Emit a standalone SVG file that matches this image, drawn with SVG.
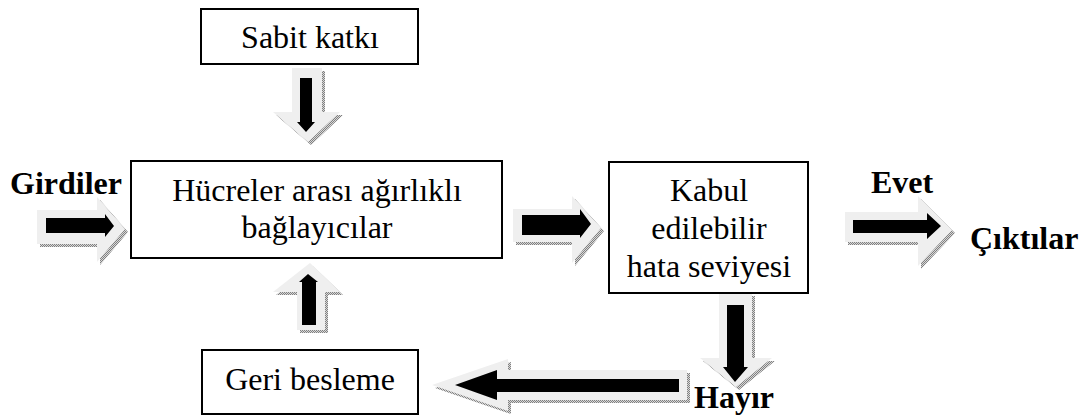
<svg xmlns="http://www.w3.org/2000/svg" width="1082" height="418" viewBox="0 0 1082 418">
<style>
.box{fill:#fff;stroke:#000;stroke-width:2}
.t{font-family:'Liberation Serif','Times New Roman','DejaVu Serif',serif;font-size:32px;fill:#000;text-anchor:middle}
.b{font-family:'Liberation Serif','Times New Roman','DejaVu Serif',serif;font-size:32px;font-weight:bold;fill:#000}
.sh{fill:url(#dots)}
.lt{fill:#efefef}
.bk{fill:#000}
</style>
<defs>
<pattern id="dots" width="2" height="2" patternUnits="userSpaceOnUse">
<rect width="2" height="2" fill="#d8d8d8"/>
<rect width="1" height="1" fill="#808080"/>
<rect x="1" y="1" width="1" height="1" fill="#808080"/>
</pattern>
</defs>
<g id="connectors">
<g id="arrow-sabit">
<polygon class="sh" transform="translate(3,3)" points="292,68 322,68 322,112 340,112 308,142 273,112 292,112"/>
<polygon class="lt" points="292,68 322,68 322,112 340,112 308,142 273,112 292,112"/>
<polygon class="bk" points="300,78 312,78 312,122 315,122 306,132 297,122 300,122"/>
</g>
<g id="arrow-girdiler">
<polygon class="sh" transform="translate(3,3)" points="37,210 97,210 97,197 125,229 97,262 97,244 37,244"/>
<polygon class="lt" points="37,210 97,210 97,197 125,229 97,262 97,244 37,244"/>
<polygon class="bk" points="46,218 105,218 105,214 114,226 105,237 105,233 46,233"/>
</g>
<g id="arrow-mid">
<polygon class="sh" transform="translate(3,3)" points="513,209 572,209 572,196 601,228 572,263 572,242 513,242"/>
<polygon class="lt" points="513,209 572,209 572,196 601,228 572,263 572,242 513,242"/>
<polygon class="bk" points="522,215 580,215 580,209 591,224 580,238 580,235 522,235"/>
</g>
<g id="arrow-evet">
<polygon class="sh" transform="translate(3,3)" points="845,212 918,212 918,196 952,230 918,266 918,242 845,242"/>
<polygon class="lt" points="845,212 918,212 918,196 952,230 918,266 918,242 845,242"/>
<polygon class="bk" points="853,220 927,220 927,213 941,226 927,239 927,233 853,233"/>
</g>
<g id="arrow-hayir">
<polygon class="sh" transform="translate(3,3)" points="719,293 752,293 752,358 772,358 736,387 700,358 719,358"/>
<polygon class="lt" points="719,293 752,293 752,358 772,358 736,387 700,358 719,358"/>
<polygon class="bk" points="727,305 744,305 744,367 748,367 735,382 723,367 727,367"/>
</g>
<g id="arrow-geri">
<polygon class="sh" transform="translate(3,3)" points="687,370 508,370 508,359 432,385 508,411 508,400 687,400"/>
<polygon class="lt" points="687,370 508,370 508,359 432,385 508,411 508,400 687,400"/>
<polygon class="bk" points="679,379 497,379 497,370 455,385 497,400 497,392 679,392"/>
</g>
<g id="arrow-up">
<polygon class="sh" transform="translate(3,3)" points="310,263 340,292 325,292 325,330 297,330 297,292 273,292"/>
<polygon class="lt" points="310,263 340,292 325,292 325,330 297,330 297,292 273,292"/>
<polygon class="bk" points="308,274 318,282 316,282 316,325 302,325 302,282 299,282"/>
</g>
</g>
<g id="node-sabit">
<rect class="box" x="201" y="9" width="217" height="55"/>
<text class="t" x="310" y="48">Sabit katkı</text>
</g>
<g id="node-hucreler">
<rect class="box" x="131" y="161" width="371" height="97"/>
<text class="t" x="317" y="201">Hücreler arası ağırlıklı</text>
<text class="t" x="317" y="238">bağlayıcılar</text>
</g>
<g id="node-kabul">
<rect class="box" x="609" y="162" width="199" height="131"/>
<text class="t" x="709" y="201">Kabul</text>
<text class="t" x="709" y="239">edilebilir</text>
<text class="t" x="709" y="277">hata seviyesi</text>
</g>
<g id="node-geri">
<rect class="box" x="202" y="350" width="216" height="64"/>
<text class="t" x="310" y="390">Geri besleme</text>
</g>
<g id="labels">
<text class="b" x="10" y="194">Girdiler</text>
<text class="b" x="871" y="193">Evet</text>
<text class="b" x="970" y="249">Çıktılar</text>
<text class="b" x="694" y="408">Hayır</text>
</g>
</svg>
